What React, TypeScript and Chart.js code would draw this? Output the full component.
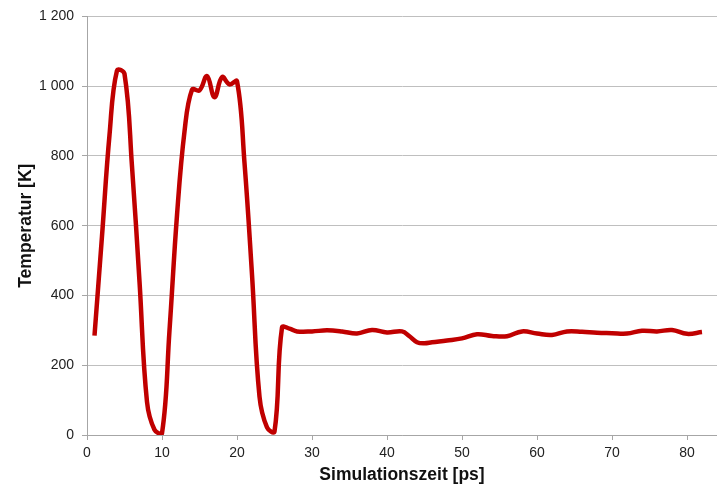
import React, { useEffect, useRef } from "react";
import { Chart, registerables } from "chart.js";

Chart.register(...registerables);

const timePs = [1, 2, 3, 4, 5, 6, 7, 8, 9, 10, 11, 12, 13, 14, 15, 16, 17, 18, 19, 20, 21, 22, 23, 24, 25, 26, 27, 28, 30, 32, 34, 36, 38, 40, 42, 43, 44, 45, 46, 48, 50, 52, 54, 56, 58, 60, 62, 64, 66, 68, 70, 72, 74, 76, 78, 80, 82];
const temperatureK = [285, 570, 860, 1045, 1035, 770, 440, 95, 15, 5, 300, 630, 870, 990, 988, 1029, 968, 1026, 1005, 1014, 780, 460, 110, 22, 10, 308, 305, 297, 297, 300, 297, 291, 301, 294, 297, 283, 266, 263, 266, 271, 277, 289, 284, 283, 297, 291, 287, 297, 296, 293, 292, 291, 299, 297, 301, 290, 295];

const xTicks = [0, 10, 20, 30, 40, 50, 60, 70, 80];
const yTicks = [0, 200, 400, 600, 800, 1000, 1200];

const xTitle = "Simulationszeit [ps]";
const yTitle = "Temperatur [K]";

export default function App() {
  const canvasRef = useRef<HTMLCanvasElement | null>(null);

  useEffect(() => {
    document.body.style.margin = "0";
    const canvas = canvasRef.current;
    if (!canvas) return;
    const font = "'Liberation Sans', Arial, sans-serif";
    const chart = new Chart(canvas, {
      type: "line",
      data: {
        datasets: [
          {
            data: timePs.map((t, i) => ({ x: t, y: temperatureK[i] })),
            borderColor: "#C00000",
            borderWidth: 4.5,
            pointRadius: 0,
            tension: 0.4,
            fill: false,
          },
        ],
      },
      options: {
        animation: false,
        responsive: false,
        maintainAspectRatio: false,
        layout: { padding: { top: 15, right: 0, bottom: 0, left: 0 } },
        plugins: { legend: { display: false }, tooltip: { enabled: false } },
        scales: {
          x: {
            type: "linear",
            min: 0,
            max: 84,
            afterBuildTicks: (axis: any) => {
              axis.ticks = xTicks.map((v) => ({ value: v }));
            },
            afterFit: (axis: any) => {
              axis.height = 51;
            },
            grid: {
              drawOnChartArea: false,
              drawTicks: true,
              tickLength: 5,
              color: "#a6a6a6",
            },
            border: { color: "#a6a6a6", width: 1 },
            ticks: {
              color: "#222",
              font: { family: font, size: 14 },
              padding: 5,
              maxRotation: 0,
            },
            title: {
              display: true,
              text: xTitle,
              color: "#111",
              font: { family: font, size: 17.5, weight: "bold" },
              padding: { top: 1, bottom: 0 },
            },
          },
          y: {
            type: "linear",
            min: 0,
            max: 1200,
            afterBuildTicks: (axis: any) => {
              axis.ticks = yTicks.map((v) => ({ value: v }));
            },
            afterFit: (axis: any) => {
              axis.width = 87;
            },
            grid: {
              color: "#bfbfbf",
              drawTicks: true,
              tickLength: 5,
              tickColor: "#a6a6a6",
            },
            border: { color: "#a6a6a6", width: 1 },
            ticks: {
              color: "#222",
              font: { family: font, size: 14 },
              padding: 8,
              callback: (v: any) =>
                String(v).replace(/\B(?=(\d{3})+(?!\d))/g, " "),
            },
            title: {
              display: true,
              text: yTitle,
              color: "#111",
              font: { family: font, size: 17.5, weight: "bold" },
              padding: { top: 16, bottom: 4 },
            },
          },
        },
      },
    });
    return () => chart.destroy();
  }, []);

  return (
    <div style={{ position: "absolute", left: 0, top: 0, width: 717, height: 486, background: "#fff" }}>
      <canvas ref={canvasRef} width={717} height={486} style={{ width: 717, height: 486 }} />
    </div>
  );
}
